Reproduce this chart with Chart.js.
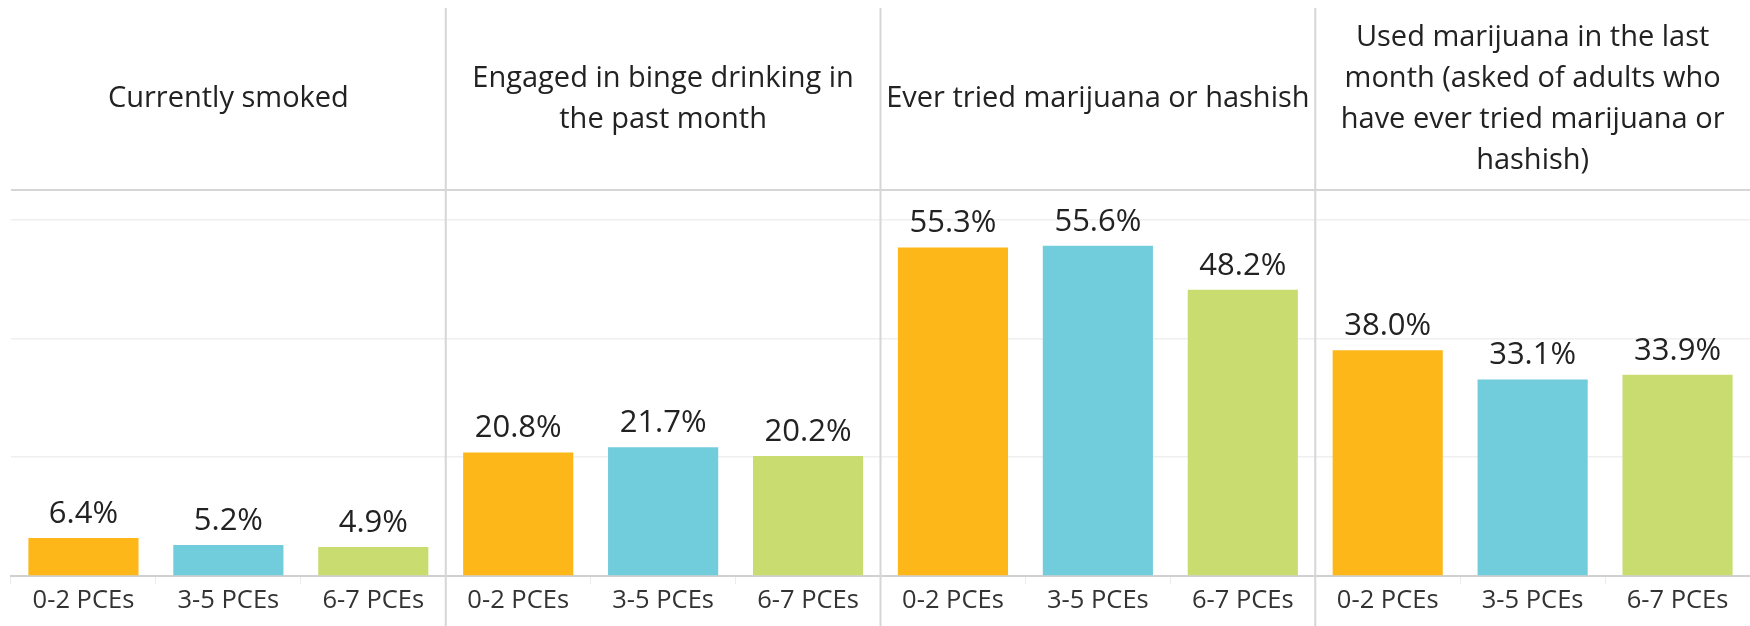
<!DOCTYPE html>
<html>
<head>
<meta charset="utf-8">
<script src="https://cdn.jsdelivr.net/npm/chart.js@4.4.1/dist/chart.umd.min.js"></script>
<style>
  html, body { margin: 0; padding: 0; background: #fff; }
  #wrap { width: 1750px; height: 626px; position: relative; }
</style>
</head>
<body>
<div id="wrap"><canvas id="chart"></canvas></div>
<script>
// Panels (measures) and the PCE groups inside each one
const PANEL_TITLES = [
    ['Currently smoked'],
    ['Engaged in binge drinking in', 'the past month'],
    ['Ever tried marijuana or hashish'],
    ['Used marijuana in the last', 'month (asked of adults who', 'have ever tried marijuana or', 'hashish)']
];
const GROUPS = ['0-2 PCEs', '3-5 PCEs', '6-7 PCEs'];

// Percent values, one array per panel, in GROUPS order
const SMOKED = [6.4, 5.2, 4.9];
const BINGE = [20.8, 21.7, 20.2];
const EVER_MARIJUANA = [55.3, 55.6, 48.2];
const LAST_MONTH_MARIJUANA = [38.0, 33.1, 33.9];

const GROUP_COLORS = ['#FDB718', '#71CCDC', '#C9DC6F'];
const FONT = '"Open Sans", "Noto Sans", sans-serif';
const TEXT = '#222';

const panels = [SMOKED, BINGE, EVER_MARIJUANA, LAST_MONTH_MARIJUANA];
const labels = panels.flatMap(() => GROUPS);
const values = panels.flat();
const colors = panels.flatMap(() => GROUP_COLORS);

// Value labels above each bar
const valueLabels = {
    id: 'valueLabels',
    afterDatasetsDraw(chart) {
        const { ctx } = chart;
        const meta = chart.getDatasetMeta(0);
        ctx.save();
        ctx.font = `31px ${FONT}`;
        ctx.fillStyle = TEXT;
        ctx.textAlign = 'center';
        ctx.textBaseline = 'middle';
        meta.data.forEach((bar, i) => {
            ctx.fillText(values[i].toFixed(1) + '%', bar.x, bar.y - 24);
        });
        ctx.restore();
    }
};

// Panel headers, header rule and vertical separators
const panelFrame = {
    id: 'panelFrame',
    afterDraw(chart) {
        const { ctx, chartArea } = chart;
        const x = chart.scales.x;
        const n = GROUPS.length;
        ctx.save();
        // header bottom rule
        ctx.strokeStyle = '#d6d6d6';
        ctx.lineWidth = 2;
        ctx.beginPath();
        ctx.moveTo(chartArea.left, chartArea.top);
        ctx.lineTo(chartArea.right, chartArea.top);
        ctx.stroke();

        const edges = [chartArea.left];
        for (let p = 1; p < panels.length; p++) {
            const xb = (x.getPixelForValue(p * n - 1) + x.getPixelForValue(p * n)) / 2;
            edges.push(xb);
            ctx.beginPath();
            ctx.moveTo(xb, 8);
            ctx.lineTo(xb, chart.height);
            ctx.stroke();
        }
        edges.push(chartArea.right);

        ctx.font = `29px ${FONT}`;
        ctx.fillStyle = TEXT;
        ctx.textAlign = 'center';
        ctx.textBaseline = 'middle';
        const lineH = 41;
        const midY = 99;
        PANEL_TITLES.forEach((lines, p) => {
            const cx = (edges[p] + edges[p + 1]) / 2;
            const y0 = midY - (lines.length - 1) * lineH / 2;
            lines.forEach((line, j) => ctx.fillText(line, cx, y0 + j * lineH));
        });
        ctx.restore();
    }
};

new Chart(document.getElementById('chart'), {
    type: 'bar',
    data: {
        labels,
        datasets: [{
            data: values,
            backgroundColor: colors,
            borderWidth: 0,
            barPercentage: 0.76,
            categoryPercentage: 1.0
        }]
    },
    options: {
        responsive: true,
        maintainAspectRatio: false,
        animation: false,
        layout: { padding: { top: 190, left: 11, right: 0, bottom: 0 } },
        plugins: {
            legend: { display: false },
            tooltip: { enabled: false }
        },
        scales: {
            x: {
                offset: true,
                grid: { offset: true, drawOnChartArea: false, tickLength: 8, color: '#ececec' },
                border: { color: '#d0d0d0', width: 2 },
                ticks: { color: '#333', font: { family: FONT, size: 25.5 }, padding: 1, maxRotation: 0, autoSkip: false },
                afterFit: (s) => { s.height = 50; }
            },
            y: {
                min: 0,
                max: 65,
                ticks: { display: false, stepSize: 20 },
                border: { display: false },
                grid: {
                    drawTicks: false,
                    color: (c) => (c.tick && c.tick.value === 65) ? 'rgba(0,0,0,0)' : '#efefef',
                    lineWidth: 1.5
                },
                afterFit: (s) => { s.width = 0; }
            }
        }
    },
    plugins: [valueLabels, panelFrame]
});
</script>
</body>
</html>
